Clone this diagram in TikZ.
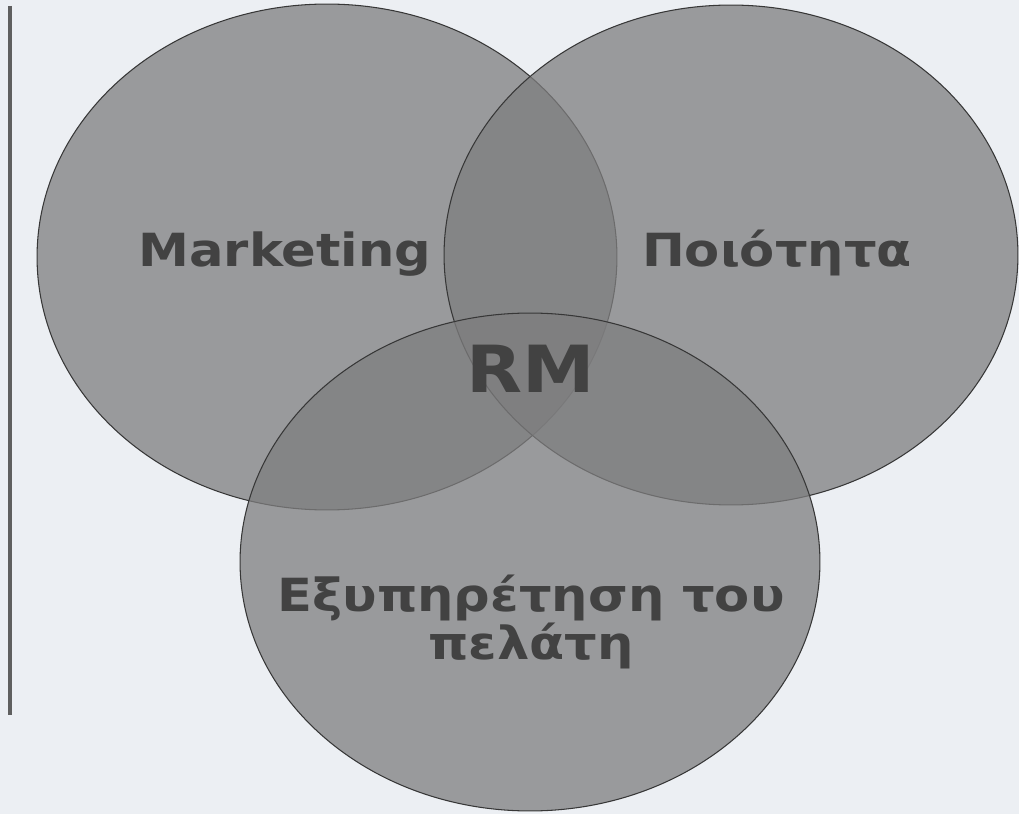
\documentclass[tikz,border=0pt]{standalone}
\usepackage{fontspec}
\setmainfont{DejaVu Sans}
\newfontfamily\widesans{DejaVu Sans}[FakeStretch=1.12]
\usepackage{tikz}
\usetikzlibrary{shapes.geometric}
\definecolor{paper}{RGB}{236,239,243}
\definecolor{disc}{RGB}{126,126,127}
\definecolor{rim}{RGB}{55,55,55}
\definecolor{ink}{RGB}{66,66,66}
\tikzset{
	set/.style={draw=rim,line width=0.6pt,ellipse,inner sep=0pt,fill=disc,fill opacity=0.75},
	lbl/.style={text=ink,font=\widesans\bfseries\fontsize{26}{25}\selectfont,align=center,inner sep=0pt},
	core/.style={text=ink,font=\widesans\bfseries\fontsize{37}{40}\selectfont,inner sep=0pt}
}

\begin{document}
\begin{tikzpicture}[x=0.02cm,y=-0.02cm]
			\fill[paper] (0,0) rectangle (1019,814);
			\useasboundingbox (0,0) rectangle (1019,814);
			\draw[rim!80,line width=2.2pt] (10,6) -- (10,715);
			
			\node[set,minimum width=11.6cm,minimum height=10.12cm] (mkt) at (327,257) {};
			\node[set,minimum width=11.48cm,minimum height=10cm] (qual) at (731,255) {};
			\node[set,minimum width=11.6cm,minimum height=9.96cm] (serv) at (530,562) {};
			
			\node[lbl,anchor=base] (tmkt) at (285,267) {Marketing};
			\node[lbl,anchor=base] (tqual) at (777,267) {Ποιότητα};
			\node[lbl] (tserv) at (531,622) {Εξυπηρέτηση του\\πελάτη};
			\node[core,anchor=base] (rm) at (531,393) {RM};
		\end{tikzpicture}
\end{document}
